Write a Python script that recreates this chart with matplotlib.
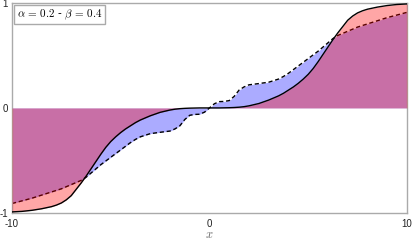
import matplotlib
matplotlib.use("Agg")
import matplotlib.pyplot as plt

plt.rcParams['mathtext.fontset'] = 'cm'
plt.rcParams['font.family'] = ['Liberation Sans', 'DejaVu Sans']

# values (both curves are odd-symmetric)
x = [-10, -9.5, -9, -8.5, -8, -7.75, -7.5, -7.25, -7, -6.75, -6.5, -6.25, -6,
     -5.75, -5.5, -5.25, -5, -4.75, -4.5, -4.25, -4, -3.75, -3.5, -3, -2.5,
     -2, -1.75, -1.5, -1.25, -1, -0.75, -0.5, -0.25, 0,
     0.25, 0.5, 0.75, 1, 1.25, 1.5, 1.75, 2, 2.5, 3, 3.5, 3.75, 4, 4.25, 4.5,
     4.75, 5, 5.25, 5.5, 5.75, 6, 6.25, 6.5, 6.75, 7, 7.25, 7.5, 7.75, 8,
     8.5, 9, 9.5, 10]

solid = [-0.99, -0.985, -0.975, -0.96, -0.94, -0.925, -0.905, -0.875, -0.835,
         -0.775, -0.715, -0.65, -0.58, -0.51, -0.44, -0.375, -0.32, -0.275,
         -0.235, -0.20, -0.17, -0.14, -0.115, -0.075, -0.042, -0.02, -0.012,
         -0.007, -0.004, -0.002, -0.001, 0.0, 0.0, 0.0,
         0.0, 0.0, 0.001, 0.002, 0.004, 0.007, 0.012, 0.02, 0.042, 0.075,
         0.115, 0.14, 0.17, 0.20, 0.235, 0.275, 0.32, 0.375, 0.44, 0.51, 0.58,
         0.65, 0.715, 0.775, 0.835, 0.875, 0.905, 0.925, 0.94, 0.96, 0.975,
         0.985, 0.99]

dashed = [-0.91, -0.885, -0.86, -0.83, -0.80, -0.785, -0.77, -0.75, -0.73,
          -0.71, -0.69, -0.66, -0.62, -0.58, -0.54, -0.505, -0.47, -0.435,
          -0.40, -0.365, -0.33, -0.30, -0.275, -0.245, -0.232, -0.22, -0.20,
          -0.17, -0.11, -0.07, -0.062, -0.06, -0.04, 0.0,
          0.04, 0.06, 0.062, 0.07, 0.11, 0.17, 0.20, 0.22, 0.232, 0.245, 0.275,
          0.30, 0.33, 0.365, 0.40, 0.435, 0.47, 0.505, 0.54, 0.58, 0.62, 0.66,
          0.69, 0.71, 0.73, 0.75, 0.77, 0.785, 0.80, 0.83, 0.86, 0.885, 0.91]

xticks = [-10, 0, 10]
yticks = [-1, 0, 1]
label = r'$\alpha\,=\,0.2$ - $\beta\,=\,0.4$'

fig = plt.figure(figsize=(4.14, 2.42), dpi=100)
ax = fig.add_axes([0.029, 0.12, 0.954, 0.868])

ax.fill_between(x, 0, dashed, color='blue', alpha=0.33, lw=0, zorder=1)
ax.plot(x, dashed, color='black', lw=1, dashes=(3, 2), zorder=2)
ax.fill_between(x, 0, solid, color='red', alpha=0.35, lw=0, zorder=3)
ax.plot(x, solid, color='black', lw=1, zorder=4)

ax.set_xlim(-10, 10)
ax.set_ylim(-1, 1)
ax.set_xticks(xticks)
ax.set_yticks(yticks)
ax.set_xticklabels([str(t) for t in xticks])
ax.set_yticklabels([str(t) for t in yticks])
ax.tick_params(length=0, labelsize=7, colors='#222222', pad=4)
ax.tick_params(axis='y', pad=3)
for sp in ax.spines.values():
    sp.set_color('#aaaaaa')
    sp.set_linewidth(1)
ax.set_xlabel(r'$x$', fontsize=9, color='#666666', labelpad=0)

ax.text(0.012, 0.978, label, transform=ax.transAxes, fontsize=8,
        family='serif', va='top', ha='left', zorder=5,
        bbox=dict(boxstyle='square,pad=0.22', fc='white', ec='#aaaaaa', lw=1))

fig.savefig('out.png', dpi=100)
